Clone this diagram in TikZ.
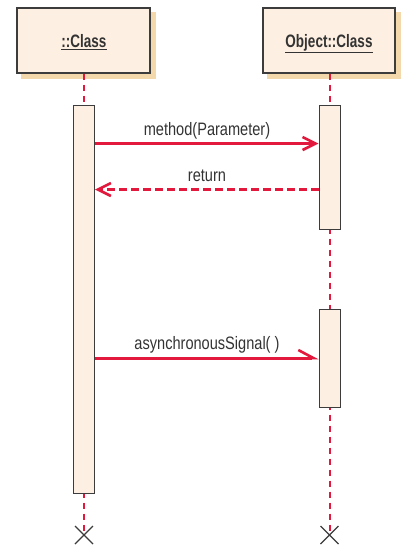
\documentclass[tikz,border=0pt]{standalone}
\usepackage{fontspec}
\setmainfont{Liberation Sans}
\newfontfamily\msgfont{Liberation Sans}[FakeStretch=0.81]
\newfontfamily\boxfont{Liberation Sans Bold}[FakeStretch=0.75]
\usetikzlibrary{arrows.meta,calc,backgrounds}
\definecolor{boxfill}{HTML}{FDEFE1}
\definecolor{boxline}{HTML}{3C3C3C}
\definecolor{shadowc}{HTML}{F2D8AA}
\definecolor{umlred}{HTML}{E2183C}
\definecolor{txt}{HTML}{333333}
\tikzset{
  objbox/.style={draw=boxline, line width=1.3pt, fill=boxfill, minimum width=133pt, minimum height=65pt, inner sep=0pt},
  boxshadow/.style={fill=shadowc, draw=none},
  actbox/.style={draw=boxline, line width=1pt, fill=boxfill, minimum width=21pt, inner sep=0pt},
  lifeline/.style={draw=umlred, line width=2pt, dash pattern=on 6.5pt off 4.5pt},
  msg/.style={draw=umlred, line width=3pt, -{Straight Barb[length=13pt, width=13pt, line width=2.6pt]}},
  ret/.style={msg, dash pattern=on 8pt off 4pt},
  async/.style={draw=umlred, line width=3pt, -{Straight Barb[length=15pt, width=16pt, line width=2.6pt, harpoon]}},
  msglabel/.style={text=txt, font=\msgfont\fontsize{18}{20}\selectfont, anchor=base, inner sep=0pt},
  boxlabel/.style={text=txt, font=\boxfont\fontsize{18}{20}\selectfont, anchor=base, inner sep=0pt},
  endmark/.style={draw=boxline, line width=1.3pt}
}
\begin{document}
\begin{tikzpicture}[x=1pt, y=-1pt]
\useasboundingbox (0,0) rectangle (407,547);
% object boxes
\node[objbox] (objA) at (83.5,40.5) {};
\node[objbox, minimum width=132pt] (objB) at (329,40.5) {};
\begin{scope}[on background layer]
\fill[boxshadow] ($(objA.north west)+(5,5)$) rectangle ($(objA.south east)+(5,5)$);
\fill[boxshadow] ($(objB.north west)+(5,5)$) rectangle ($(objB.south east)+(5,5)$);
\end{scope}
\node[boxlabel] (labA) at (84,47.5) {\underline{::Class}};
\node[boxlabel] (labB) at (329,47.5) {\underline{Object::Class}};
% end coordinates
\coordinate (endA) at (84,535);
\coordinate (endB) at (329.5,535);
% lifelines
\draw[lifeline] (objA.south -| endA) -- (endA);
\draw[lifeline] (objB.south -| endB) -- (endB);
% activations
\node[actbox, minimum height=388pt] (actA) at (84,299) {};
\node[actbox, minimum height=124pt] (actB1) at (329.5,167) {};
\node[actbox, minimum height=98pt] (actB2) at (329.5,358) {};
% messages
\coordinate (y1) at (0,143.5);
\coordinate (y2) at (0,189.5);
\coordinate (y3) at (0,358);
\draw[msg] (actA.east |- y1) -- (actB1.west |- y1);
\node[msglabel] (l1) at (207,135) {method(Parameter)};
\draw[ret] (actB1.west |- y2) -- (actA.east |- y2);
\node[msglabel] (l2) at (207,181) {return};
\draw[async] (actA.east |- y3) -- (actB2.west |- y3);
\node[msglabel] (l3) at (207,349) {asynchronousSignal( )};
% destruction marks
\draw[endmark] ($(endA)+(-9,-9)$) -- ($(endA)+(9,9)$) ($(endA)+(-9,9)$) -- ($(endA)+(9,-9)$);
\draw[endmark] ($(endB)+(-9,-9)$) -- ($(endB)+(9,9)$) ($(endB)+(-9,9)$) -- ($(endB)+(9,-9)$);
\end{tikzpicture}
\end{document}
